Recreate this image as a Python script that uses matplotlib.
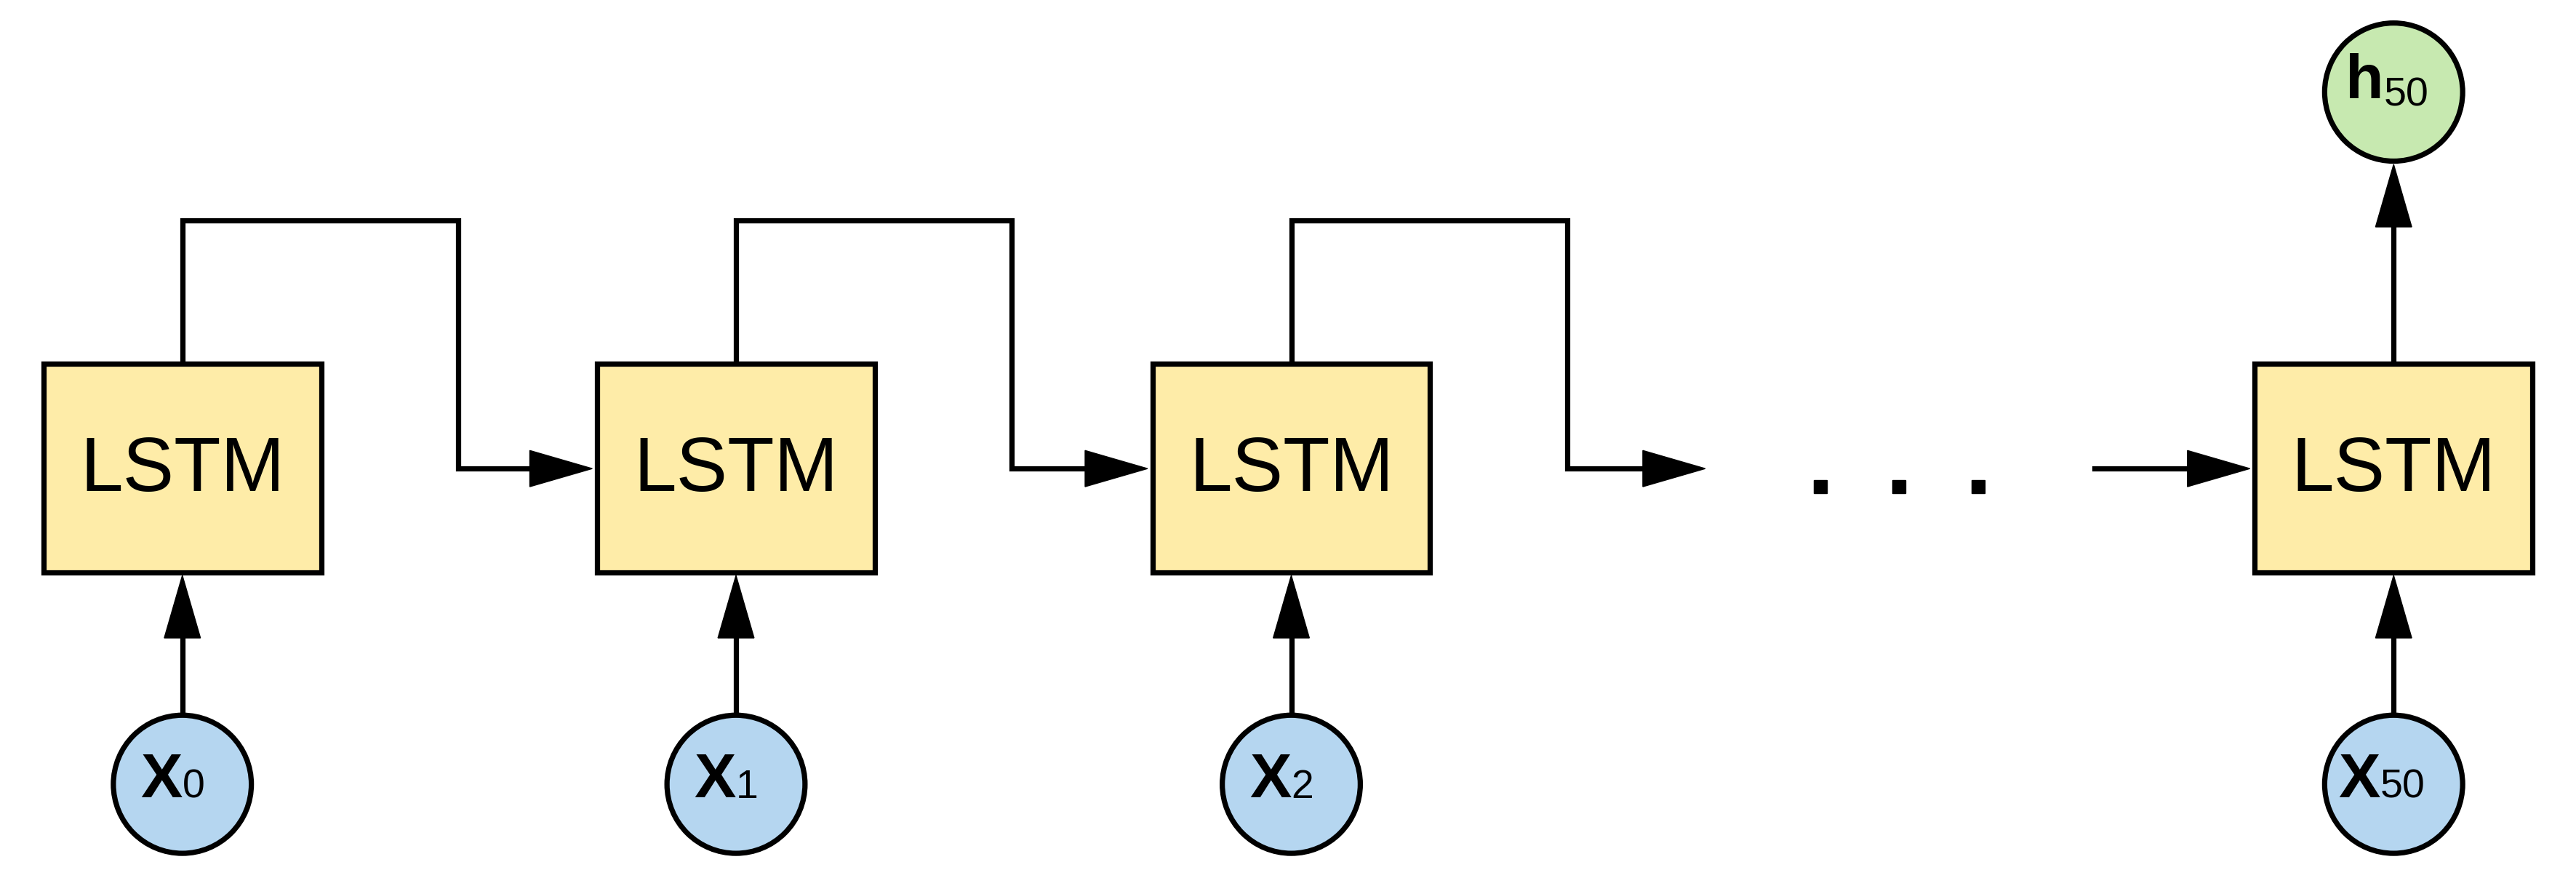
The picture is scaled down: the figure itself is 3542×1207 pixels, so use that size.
import matplotlib
matplotlib.use("Agg")
import matplotlib.pyplot as plt
from matplotlib.patches import Rectangle, Circle, Polygon

# chain layout (reference pixel units, 1568 x 534 canvas)
cell_x = [111, 448, 786, 1457]
input_sub = ["0", "1", "2", "50"]
output_sub = "50"
cell_label = "LSTM"

BOX_W, BOX_H = 169, 127
BOX_TOP = 221
CIRC_Y, CIRC_R = 477, 42
LW = 3.2
BOX_FILL = "#feeca8"
IN_FILL = "#b5d6f0"
OUT_FILL = "#c7e9b0"

fig = plt.figure(figsize=(35.42, 12.07), dpi=100)
ax = fig.add_axes([0, 0, 1, 1])
ax.set_xlim(0, 1568)
ax.set_ylim(534, 0)
ax.axis("off")
lw = LW * 2.26 / 1.389


def head(tip_x, tip_y, direction):
    L, W = 38, 11
    if direction == "right":
        pts = [(tip_x, tip_y), (tip_x - L, tip_y - W), (tip_x - L, tip_y + W)]
    else:
        pts = [(tip_x, tip_y), (tip_x - W, tip_y + L), (tip_x + W, tip_y + L)]
    ax.add_patch(Polygon(pts, closed=True, color="black", zorder=4))


def line(xs, ys):
    ax.plot(xs, ys, color="black", lw=lw, solid_joinstyle="miter", zorder=3)


def node(x, y, fill, letter, sub):
    ax.add_patch(Circle((x, y), CIRC_R, facecolor=fill, edgecolor="black", lw=lw, zorder=5))
    ax.text(x - 4, y + 2, letter, fontsize=62, fontweight="bold", ha="right", va="center",
            family="Liberation Sans", zorder=6)
    ax.text(x - 6, y + 12, sub, fontsize=40, ha="left", va="center",
            family="Liberation Sans", zorder=6)


for i, cx in enumerate(cell_x):
    ax.add_patch(Rectangle((cx - BOX_W / 2, BOX_TOP), BOX_W, BOX_H, facecolor=BOX_FILL,
                           edgecolor="black", lw=lw, zorder=5))
    ax.text(cx, BOX_TOP + BOX_H / 2 + 2, cell_label, fontsize=76, ha="center", va="center",
            family="Liberation Sans", zorder=6)
    # input arrow
    node(cx + (8 if len(input_sub[i]) > 1 else 4), CIRC_Y, IN_FILL, "x", input_sub[i]) if False else None
    ax.add_patch(Circle((cx, CIRC_Y), CIRC_R, facecolor=IN_FILL, edgecolor="black", lw=lw, zorder=5))
    off = 10 if len(input_sub[i]) > 1 else 2
    ax.text(cx + 2 - off, CIRC_Y - 2, "X", fontsize=62, fontweight="bold", ha="right",
            va="center", family="Liberation Sans", zorder=6)
    ax.text(cx + 2 - off, CIRC_Y + 2, input_sub[i], fontsize=40, ha="left", va="center",
            family="Liberation Sans", zorder=6)
    line([cx, cx], [CIRC_Y - CIRC_R, 380])
    head(cx, BOX_TOP + BOX_H + 2, "up")
    # recurrent connection
    if i < 3:
        right = cx + 168
        line([cx, cx, right, right, right + 50], [BOX_TOP, 134, 134, 285, 285])
        tip = cell_x[i + 1] - BOX_W / 2 - 3 if i < 2 else 1038
        head(tip, 285, "right")

# dots and final incoming arrow
for dx in [1108, 1156, 1204]:
    ax.add_patch(Rectangle((dx - 4, 292), 8, 8, color="black", zorder=4))
line([1275, 1340], [285, 285])
head(cell_x[3] - BOX_W / 2 - 3, 285, "right")

# output
cx = cell_x[3]
line([cx, cx], [BOX_TOP, 130])
head(cx, 100, "up")
ax.add_patch(Circle((cx, 56), CIRC_R, facecolor=OUT_FILL, edgecolor="black", lw=lw, zorder=5))
ax.text(cx - 6, 50, "h", fontsize=62, fontweight="bold", ha="right", va="center",
        family="Liberation Sans", zorder=6)
ax.text(cx - 6, 58, output_sub, fontsize=40, ha="left", va="center",
        family="Liberation Sans", zorder=6)

fig.savefig("out.png", dpi=100)
